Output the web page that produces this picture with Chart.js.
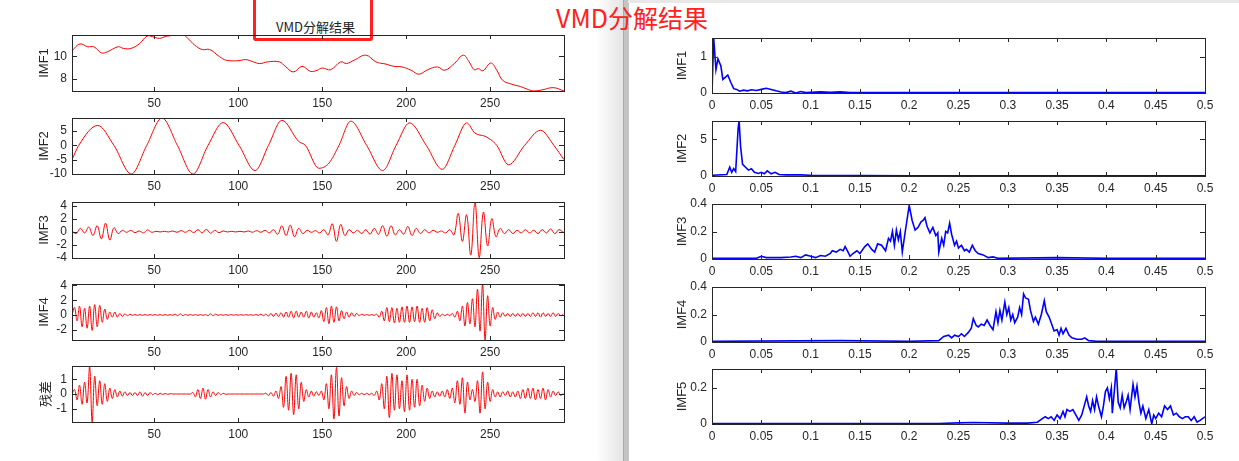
<!DOCTYPE html>
<html>
<head>
<meta charset="utf-8">
<script src="https://cdn.jsdelivr.net/npm/chart.js@4"></script>
<style>
body{margin:0;width:1239px;height:461px;background:#fff;position:relative;overflow:hidden;font-family:"Liberation Sans",Arial,sans-serif}
canvas{position:absolute}
#band{position:absolute;left:596px;top:0;width:27px;height:461px;background:linear-gradient(to right,#fff,#e4e4e4)}
#sep{position:absolute;left:623px;top:0;width:5px;height:461px;background:#c4c4c4;border-left:1px solid #aaa}
#topline{position:absolute;left:628px;top:0;width:611px;height:3px;background:#e8e8e8}
#bigTitle{position:absolute;left:556px;top:2px;color:#ff2020;font-size:25px;font-family:"Noto Sans CJK SC",sans-serif;line-height:30px}
#smallTitle{position:absolute;left:276px;top:17px;color:#222;font-size:13px;font-family:"Noto Sans CJK SC",sans-serif}
#box{position:absolute;left:253px;top:-6px;width:114px;height:41px;border:3px solid #ff2020;border-radius:3px}
</style>
</head>
<body>
<div id="band"></div><div id="sep"></div><div id="topline"></div>
<div id="smallTitle">VMD分解结果</div>
<div id="box"></div>
<div id="bigTitle">VMD分解结果</div>
<script>
// time-domain modes (left), x = sample index
const imf1X=[1,5.7,10.4,14,18.6,22,28.5,31.6,36,41,45.7,49,53,57.5,67,70,74,78.6,83,89,92.8,99.8,104.5,109,112.8,117.5,124.5,128,132.8,138,143,147,150,155,161,164.5,169,176,182,188,192.8,197.5,203,207.6,212.8,218.6,223,229,234,237.5,240.5,243,245.7,250.4,254,257.5,263,268,271.5,276,281,287.6,294];
const imf1Y=[10.5,11.1,10.85,10.85,10.3,10.4,10.85,10.7,10.7,11.1,11.8,11.75,11.6,11.8,11.9,11.6,11,10.6,10.6,9.95,9.65,9.6,9.7,9.5,9.35,9.5,9.5,9.1,8.6,9.1,8.65,8.75,8.95,8.8,9.5,9.35,9.65,10.1,9.5,9.3,9.1,9.05,8.75,8.4,8.8,9.05,8.75,9.4,10.1,9.5,8.8,8.9,8.7,9.4,8.75,7.85,7.5,7.3,7.1,6.9,7.0,7.2,6.9];
const imf2X=[1,5,16.3,26,36.3,45.5,54.6,63.8,73,82,91,100.5,110,118,126,136,140,148,154,160,167,176.5,186,194,202,212,221.5,229,236,241,247,250.4,254,261,270.5,280,288,294];
const imf2Y=[-5,0,7,0,-10,0,9.6,0,-10,0,8,0,-8.8,0,8.8,1.4,0,-8,-6.2,0,8.5,0,-8.8,0,7.9,0,-8.4,0,7.9,4.3,3.2,2,0,-6.8,0,5.3,0,-5];
// IMF3 sampled every 2.5, IMF4 and residual every 1.5, starting at sample 1
const imf3Step=2.5;
const imf3Y=[0.1,-0.3,0.5,-0.2,0.7,-0.6,0.9,-1.1,1.3,-1.3,
0.6,-0.3,0.2,-0.1,0.2,-0.15,0.1,-0.2,0.25,-0.1,
0.05,-0.05,0.05,-0.05,0.1,-0.1,0.15,-0.1,0.2,-0.15,
0.3,-0.2,0.35,-0.25,0.2,-0.15,0.1,-0.05,0.05,-0.05,
0.05,-0.05,0.1,-0.1,0.15,-0.1,0.2,-0.2,0.3,-0.4,
0.9,-0.6,1.0,-0.8,0.5,-0.3,0.2,-0.1,0.15,-0.2,
0.3,-0.5,1.2,-1.5,1.1,-0.6,0.3,-0.2,0.2,-0.3,
0.3,-0.4,0.5,-0.4,0.9,-0.7,0.9,-0.5,0.3,-0.4,
0.8,-0.6,0.5,-0.3,0.3,-0.2,0.2,-0.1,0.1,-0.2,
0.3,-0.5,2.8,-1.5,2.6,-3.6,4.5,-4.0,3.0,-2.2,
2.0,-0.8,0.5,-0.3,0.3,-0.3,0.2,-0.2,0.3,-0.2,
0.2,-0.3,0.3,-0.2,0.4,-0.3,0.3,-0.1];
const imf4Step=1.5;
const imf4Y=[0,1.0,-0.8,1.2,-1.6,0.9,-1.8,1.2,-2.1,1.4,-1.6,1.3,-1.0,0.8,-0.6,0.4,-0.3,0.4,-0.3,0.2,
-0.2,0.15,-0.1,0.1,-0.05,0.05,-0.05,0.05,-0.05,0.05,-0.05,0.05,-0.05,0.05,-0.05,0.05,-0.05,0.05,-0.05,0.05,
-0.05,0.1,-0.1,0.15,-0.1,0.05,-0.05,0.05,-0.05,0.05,-0.05,0.05,-0.05,0.05,-0.1,0.15,-0.1,0.1,-0.05,0.05,
-0.05,0.05,-0.05,0.05,-0.03,0.03,-0.03,0.03,-0.03,0.03,-0.03,0.03,-0.05,0.05,-0.05,0.1,-0.1,0.1,-0.15,0.2,
-0.2,0.25,-0.2,0.3,-0.3,0.4,-0.3,0.5,-0.4,0.5,-0.3,0.4,-0.3,0.5,-0.4,0.4,-0.3,0.3,-0.4,0.6,
-0.9,1.0,-1.2,1.2,-1.0,1.1,-0.8,0.6,-0.5,0.4,-0.3,0.3,-0.2,0.2,-0.1,0.1,-0.05,0.05,-0.05,0.05,
-0.05,0.1,-0.3,0.5,-0.8,1.0,-0.9,1.0,-1.1,0.9,-1.0,1.1,-1.0,1.2,-1.0,1.1,-0.9,1.2,-1.0,0.9,
-1.0,1.0,-0.8,0.7,-0.5,0.3,-0.2,0.1,-0.1,0.1,-0.1,0.2,-0.3,0.5,-0.8,1.2,-1.5,1.7,-1.2,2.2,
-1.6,3.5,-2.2,4.2,-3.4,2.6,-1.5,1.0,-0.6,0.4,-0.3,0.3,-0.2,0.2,-0.2,0.2,-0.2,0.2,-0.2,0.2,
-0.2,0.2,-0.2,0.3,-0.2,0.3,-0.3,0.3,-0.2,0.2,-0.2,0.3,-0.2,0.2,-0.1,0.1];
const resStep=1.5;
const resY=[0,0.3,-0.4,0.6,-0.7,0.8,-0.6,1.9,-1.9,1.2,-0.8,0.9,-0.7,0.7,-0.5,0.4,-0.3,0.3,-0.2,0.2,
-0.15,0.15,-0.1,0.1,-0.1,0.1,-0.1,0.15,-0.15,0.1,-0.1,0.1,-0.05,0.05,-0.05,0.05,-0.03,0.03,-0.02,0.02,
0,0,0,0,0,0,0,0,0.1,-0.2,0.3,-0.3,0.4,-0.35,0.3,-0.2,0.15,-0.1,0.1,-0.05,
0.05,-0.02,0,0,0,0,0,0,0,0,0,0,0,0,0,0,0,0.05,-0.1,0.1,
-0.15,0.2,-0.3,0.5,-0.9,1.2,-1.1,1.4,-1.4,1.3,-1.0,0.8,-0.5,0.3,-0.2,0.2,-0.15,0.15,-0.1,0.2,
-0.4,0.7,-1.0,1.3,-1.7,1.8,-1.5,1.1,-0.8,0.5,-0.3,0.2,-0.1,0.1,-0.05,0.05,-0.05,0.05,-0.05,0.05,
-0.1,0.2,-0.4,0.7,-1.0,1.2,-1.6,1.4,-1.1,1.3,-1.0,0.9,-1.2,1.3,-1.1,1.0,-0.9,1.0,-0.8,0.6,
-0.5,0.4,-0.3,0.2,-0.2,0.15,-0.15,0.2,-0.2,0.3,-0.3,0.4,-0.6,0.9,-0.7,1.1,-1.3,0.8,-0.4,0.3,
-0.5,0.9,-1.3,1.5,-1.0,0.8,-0.5,0.3,-0.2,0.15,-0.2,0.15,-0.1,0.2,-0.2,0.15,-0.2,0.2,-0.3,0.3,
-0.3,0.4,-0.3,0.4,-0.4,0.3,-0.3,0.4,-0.4,0.3,-0.2,0.2,-0.1,0.15,-0.1,0.05];

// spectra (right), x = normalised frequency
const sp1X=[0,0.0017,0.004,0.006,0.009,0.011,0.014,0.016,0.019,0.022,0.025,0.028,0.032,0.036,0.04,0.045,0.05,0.055,0.06,0.065,0.07,0.075,0.08,0.085,0.09,0.095,0.1,0.11,0.12,0.13,0.14,0.15,0.2,0.3,0.4,0.5];
const sp1Y=[0,1.53,0.65,0.95,0.75,0.38,0.45,0.5,0.3,0.12,0.1,0.05,0.08,0.06,0.09,0.07,0.1,0.13,0.1,0.06,0.03,0.01,0.05,0,0.04,0.01,0.02,0.03,0.02,0.03,0.01,0.01,0.01,0.01,0.01,0.01];
const sp2X=[0,0.015,0.018,0.02,0.022,0.024,0.0265,0.0275,0.029,0.031,0.034,0.037,0.04,0.043,0.047,0.05,0.053,0.056,0.06,0.064,0.068,0.075,0.09,0.1,0.15,0.2,0.3,0.4,0.5];
const sp2Y=[0.1,0.2,1.2,0.5,1.0,0.6,6.5,7.5,4.0,1.6,1.2,0.8,1.0,0.5,0.35,0.5,0.3,0.7,0.3,0.5,0.2,0.15,0.15,0.1,0.05,0.03,0.03,0.03,0.03];
const sp3X=[0,0.045,0.05,0.055,0.07,0.08,0.085,0.09,0.095,0.1,0.105,0.11,0.115,0.12,0.122,0.126,0.13,0.133,0.135,0.138,0.14,0.143,0.147,0.15,0.155,0.158,0.162,0.165,0.168,0.172,0.176,0.179,0.181,0.183,0.185,0.187,0.189,0.191,0.193,0.196,0.2,0.203,0.206,0.209,0.212,0.214,0.216,0.218,0.221,0.224,0.227,0.229,0.23,0.233,0.235,0.237,0.239,0.241,0.243,0.246,0.248,0.25,0.253,0.256,0.258,0.261,0.264,0.267,0.27,0.275,0.28,0.285,0.29,0.35,0.4,0.5];
const sp3Y=[0.005,0.005,0.02,0.01,0.01,0.015,0.02,0.01,0.03,0.02,0.01,0.025,0.02,0.04,0.06,0.05,0.07,0.06,0.09,0.05,0.02,0.04,0.06,0.04,0.09,0.11,0.07,0.05,0.11,0.1,0.06,0.15,0.13,0.2,0.1,0.21,0.14,0.2,0.05,0.2,0.39,0.28,0.21,0.23,0.27,0.28,0.3,0.24,0.19,0.23,0.17,0.19,0.05,0.15,0.1,0.2,0.19,0.26,0.18,0.1,0.13,0.08,0.1,0.06,0.07,0.05,0.1,0.06,0.04,0.03,0.01,0.015,0.005,0.01,0.005,0.005];
const sp4X=[0,0.13,0.2,0.23,0.235,0.24,0.243,0.246,0.25,0.253,0.256,0.26,0.263,0.265,0.268,0.27,0.273,0.276,0.279,0.282,0.285,0.288,0.29,0.292,0.294,0.297,0.299,0.301,0.303,0.305,0.307,0.31,0.312,0.314,0.316,0.318,0.321,0.323,0.326,0.328,0.331,0.334,0.337,0.339,0.342,0.345,0.347,0.35,0.352,0.354,0.356,0.359,0.362,0.365,0.37,0.375,0.378,0.382,0.39,0.5];
const sp4Y=[0.005,0.01,0.005,0.01,0.04,0.05,0.03,0.05,0.04,0.06,0.04,0.07,0.1,0.17,0.12,0.11,0.13,0.12,0.16,0.12,0.09,0.22,0.14,0.23,0.16,0.29,0.2,0.25,0.16,0.2,0.14,0.18,0.25,0.2,0.35,0.32,0.31,0.23,0.15,0.18,0.13,0.2,0.3,0.22,0.18,0.12,0.08,0.09,0.05,0.1,0.06,0.1,0.05,0.03,0.02,0.02,0.03,0.01,0.005,0.005];
const sp5X=[0,0.23,0.25,0.265,0.3,0.32,0.33,0.335,0.338,0.341,0.344,0.347,0.35,0.353,0.356,0.358,0.36,0.363,0.366,0.369,0.372,0.375,0.378,0.38,0.382,0.384,0.386,0.388,0.39,0.392,0.395,0.397,0.399,0.401,0.403,0.405,0.406,0.408,0.41,0.412,0.414,0.416,0.418,0.42,0.422,0.424,0.427,0.429,0.431,0.433,0.435,0.437,0.44,0.443,0.446,0.448,0.45,0.453,0.456,0.459,0.462,0.465,0.468,0.471,0.474,0.477,0.48,0.483,0.486,0.489,0.492,0.495,0.5];
const sp5Y=[0.003,0.003,0.006,0.008,0.005,0.005,0.01,0.03,0.04,0.03,0.04,0.02,0.05,0.03,0.07,0.04,0.08,0.07,0.08,0.05,0.02,0.05,0.11,0.15,0.1,0.07,0.13,0.08,0.15,0.1,0.04,0.1,0.18,0.2,0.14,0.2,0.06,0.18,0.31,0.12,0.09,0.16,0.09,0.12,0.16,0.08,0.22,0.15,0.21,0.12,0.06,0.1,0.03,0.08,0,0.05,0.03,0.06,0.04,0.1,0.08,0.1,0.05,0.06,0.04,0.03,0.04,0.04,0.02,0.04,0.01,0.02,0.04];

const leftTicks=[50,100,150,200,250];
const rightTicks=[0,0.05,0.1,0.15,0.2,0.25,0.3,0.35,0.4,0.45,0.5];

function pts(xs,ys){return ys.map((y,i)=>({x:xs[i],y:y}));}
function stepPts(step,ys){return ys.map((y,i)=>({x:1+i*step,y:y}));}

const XH=22,PT=8,PR=24;
const frame={id:"frame",afterDraw(c){
  const a=c.chartArea,g=c.ctx,xs=c.scales.x,ys=c.scales.y;
  g.save();g.strokeStyle="#262626";g.lineWidth=1;
  g.strokeRect(Math.round(a.left)+0.5,Math.round(a.top)+0.5,Math.round(a.right-a.left),Math.round(a.bottom-a.top));
  g.beginPath();
  xs.ticks.forEach(t=>{const p=Math.round(xs.getPixelForValue(t.value))+0.5;g.moveTo(p,a.bottom);g.lineTo(p,a.bottom-4);g.moveTo(p,a.top);g.lineTo(p,a.top+4);});
  ys.ticks.forEach(t=>{const p=Math.round(ys.getPixelForValue(t.value))+0.5;g.moveTo(a.left,p);g.lineTo(a.left+5,p);g.moveTo(a.right,p);g.lineTo(a.right-5,p);});
  g.stroke();g.restore();
}};

function plot(left,top,w,h,yw,data,col,lw,xmin,xmax,xt,ymin,ymax,yt,name,smooth){
  const cv=document.createElement("canvas");
  cv.style.left=(left-yw)+"px";cv.style.top=(top-PT)+"px";
  cv.style.width=(w+yw+PR)+"px";cv.style.height=(h+PT+XH)+"px";
  cv.width=w+yw+PR;cv.height=h+PT+XH;
  document.body.appendChild(cv);
  new Chart(cv,{type:"line",
    data:{datasets:[{data:data,borderColor:col,borderWidth:lw,pointRadius:0,tension:smooth?0.4:0,cubicInterpolationMode:smooth==="m"?"monotone":"default"}]},
    options:{responsive:false,animation:false,devicePixelRatio:1,
      layout:{padding:{top:PT,right:PR,left:0,bottom:0}},
      plugins:{legend:{display:false},tooltip:{enabled:false}},
      scales:{
        x:{type:"linear",min:xmin,max:xmax,afterBuildTicks:s=>{s.ticks=xt.map(v=>({value:v}));},
          afterFit:s=>{s.height=XH;s.paddingLeft=0;s.paddingRight=0;},grid:{display:false,drawTicks:false,tickLength:0},border:{display:false},
          ticks:{color:"#262626",font:{size:12,family:"Liberation Sans"},padding:5,maxRotation:0,autoSkip:false,callback:v=>String(v)}},
        y:{min:ymin,max:ymax,afterBuildTicks:s=>{s.ticks=yt.map(v=>({value:v}));},
          afterFit:s=>{s.width=yw;s.paddingTop=0;s.paddingBottom=0;},grid:{display:false,drawTicks:false,tickLength:0},border:{display:false},
          title:{display:true,text:name,color:"#262626",font:{size:13,family:name==="残差"?"Noto Sans CJK SC":"Liberation Sans"},padding:{top:0,bottom:0}},
          ticks:{color:"#262626",font:{size:12,family:"Liberation Sans"},padding:5,autoSkip:false,callback:v=>String(v)}}
      }},
    plugins:[frame]});
}

const red="#ff0000",blue="#0000ff";
plot(72,35,492,56,35,pts(imf1X,imf1Y),red,1,1,294,leftTicks,6.9,11.9,[8,10],"IMF1",true);
plot(72,118,492,56,35,pts(imf2X,imf2Y),red,1,1,294,leftTicks,-10,9.6,[-10,-5,0,5],"IMF2","m");
plot(72,202,492,56,35,stepPts(imf3Step,imf3Y),red,1,1,294,leftTicks,-4.05,4.55,[-4,-2,0,2,4],"IMF3",true);
plot(72,284,492,56,35,stepPts(imf4Step,imf4Y),red,1,1,294,leftTicks,-3.4,4.2,[-2,0,2,4],"IMF4",true);
plot(72,366,492,56,35,stepPts(resStep,resY),red,1,1,294,leftTicks,-1.9,1.9,[-1,0,1],"残差",true);

plot(712,38,493,55,37,pts(sp1X,sp1Y),blue,1.6,0,0.5,rightTicks,0,1.53,[0,1],"IMF1",false);
plot(712,121,493,55,37,pts(sp2X,sp2Y),blue,1.6,0,0.5,rightTicks,0,7.5,[0,5],"IMF2",false);
plot(712,204,493,55,37,pts(sp3X,sp3Y),blue,1.6,0,0.5,rightTicks,0,0.4,[0,0.2,0.4],"IMF3",false);
plot(712,287,493,55,37,pts(sp4X,sp4Y),blue,1.6,0,0.5,rightTicks,0,0.4,[0,0.2,0.4],"IMF4",false);
plot(712,369,493,55,37,pts(sp5X,sp5Y),blue,1.6,0,0.5,rightTicks,0,0.305,[0,0.2],"IMF5",false);
</script>
</body>
</html>
